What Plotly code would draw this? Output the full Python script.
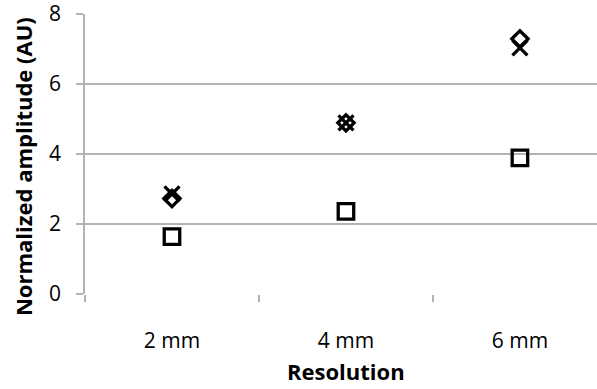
import plotly.graph_objects as go

categories = ["2 mm", "4 mm", "6 mm"]
diamond_vals = [2.73, 4.89, 7.29]
cross_vals = [2.86, 4.89, 7.03]
square_vals = [1.64, 2.36, 3.89]

font_family = "Open Sans, Lato, sans-serif"

fig = go.Figure()
fig.add_trace(go.Scatter(
    x=categories, y=square_vals, mode="markers",
    marker=dict(symbol="square-open", size=15.5, color="black",
                line=dict(width=3.3, color="black")),
))
fig.add_trace(go.Scatter(
    x=categories, y=cross_vals, mode="markers",
    marker=dict(symbol="x-thin", size=15, color="black",
                line=dict(width=3.3, color="black")),
))
fig.add_trace(go.Scatter(
    x=categories, y=diamond_vals, mode="markers",
    marker=dict(symbol="diamond-open", size=12.5, color="black",
                line=dict(width=3.3, color="black")),
))

axis_grey = "#b3b3b3"
fig.update_layout(
    width=597, height=389,
    margin=dict(l=85, r=0, t=14, b=95),
    paper_bgcolor="white", plot_bgcolor="white",
    showlegend=False,
    font=dict(family=font_family, size=21, color="black"),
    xaxis=dict(
        type="category", range=[-0.5, 2.443],
        tickson="boundaries", ticks="outside", ticklen=7,
        tickcolor=axis_grey, tickwidth=1.5,
        showgrid=False, showline=False, zeroline=False,
        tickfont=dict(size=21), ticklabelstandoff=32,
    ),
    yaxis=dict(
        range=[0, 8], dtick=2, ticks="outside", ticklen=7,
        tickcolor=axis_grey, tickwidth=1.5,
        showgrid=True, gridcolor=axis_grey, gridwidth=1.5,
        showline=True, linecolor=axis_grey, linewidth=1.5,
        zeroline=False, tickfont=dict(size=21), ticklabelstandoff=11,
        ticklabeloverflow="allow",
    ),
    annotations=[
        dict(
            text="<b>Normalized amplitude (AU)</b>", textangle=-90,
            xref="paper", yref="paper", x=-0.121, y=0.4536,
            xanchor="center", yanchor="middle", showarrow=False,
            font=dict(size=22),
        ),
        dict(
            text="<b>Resolution</b>",
            xref="paper", yref="paper", x=0.5098, y=-0.336,
            xanchor="center", yanchor="bottom", showarrow=False,
            font=dict(size=22),
        ),
    ],
)

fig.write_html("out.html")
